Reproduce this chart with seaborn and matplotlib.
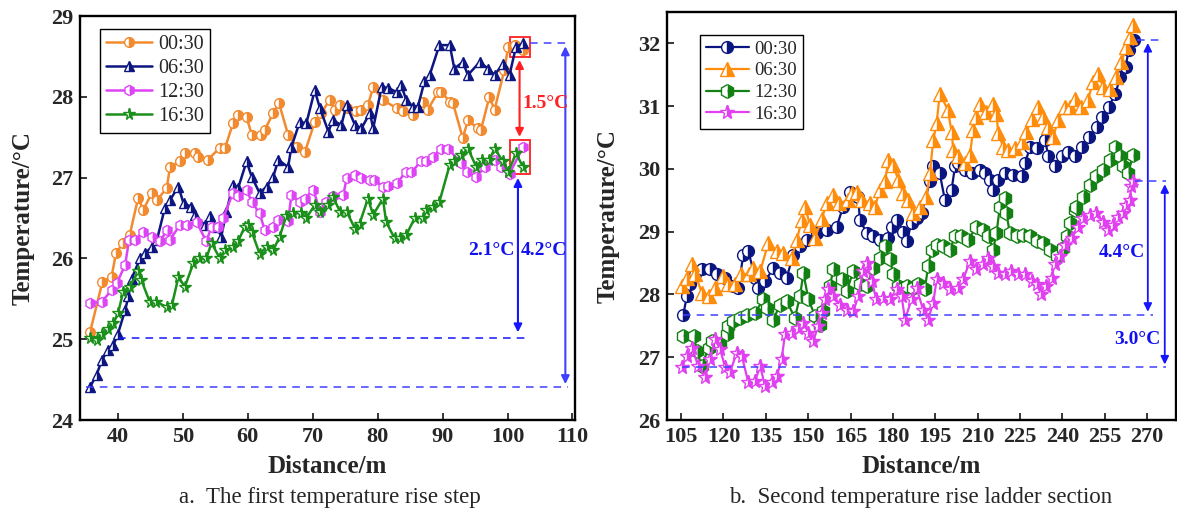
import matplotlib
matplotlib.use("Agg")
import matplotlib.pyplot as plt
import matplotlib.patches as mpatches
import seaborn as sns
import numpy as np

# ---------------- data: panel a (first temperature rise step) ----------------
a_times = ["00:30", "06:30", "12:30", "16:30"]

a_x_0030 = [35.7, 37.6, 39.0, 39.7, 40.8, 41.8, 43.1, 43.9, 45.2, 46.0, 47.5, 48.0, 49.5, 50.3, 51.8, 52.3,
            53.8, 55.7, 56.5, 57.7, 58.5, 59.8, 60.6, 62.1, 62.6, 63.9, 64.8, 66.2, 67.5, 68.8, 70.3, 71.3,
            72.6, 73.4, 74.2, 75.2, 76.7, 77.5, 78.5, 79.3, 80.8, 82.9, 83.9, 85.4, 87.0, 87.7, 89.3, 89.8,
            91.1, 91.6, 93.1, 93.9, 95.4, 95.9, 97.2, 98.0, 99.5, 100.1, 101.1, 102.4]
a_y_0030 = [25.09, 25.71, 25.77, 26.07, 26.19, 26.29, 26.75, 26.60, 26.81, 26.72, 26.87, 27.13, 27.20, 27.30,
            27.30, 27.26, 27.22, 27.37, 27.37, 27.67, 27.77, 27.75, 27.53, 27.53, 27.59, 27.80, 27.92, 27.53,
            27.38, 27.32, 27.69, 27.80, 27.96, 27.84, 27.90, 27.86, 27.82, 27.84, 27.90, 28.12, 27.96, 27.86,
            27.82, 27.77, 27.94, 27.84, 28.06, 28.06, 27.94, 27.92, 27.49, 27.71, 27.61, 27.59, 28.00, 27.84,
            28.33, 28.62, 28.64, 28.58]

a_x_0630 = [35.7, 36.7, 37.5, 38.5, 39.3, 40.0, 41.1, 41.6, 42.1, 43.4, 44.2, 45.2, 46.0, 47.2, 48.0, 49.3,
            50.1, 51.3, 51.8, 53.4, 54.2, 55.2, 55.9, 56.7, 57.7, 58.5, 59.8, 60.6, 61.8, 62.9, 63.9, 64.7,
            66.2, 66.7, 68.0, 69.0, 70.3, 71.1, 72.4, 73.1, 74.4, 75.2, 76.5, 77.5, 78.8, 79.3, 80.6, 81.6,
            82.9, 83.6, 84.4, 85.4, 86.2, 87.2, 88.0, 89.5, 91.1, 91.8, 93.1, 93.9, 95.7, 97.0, 98.0, 99.3,
            100.3, 101.3, 102.4]
a_y_0630 = [24.41, 24.56, 24.74, 24.87, 24.93, 25.07, 25.36, 25.53, 25.75, 26.00, 26.07, 26.14, 26.23, 26.62,
            26.72, 26.89, 26.68, 26.64, 26.54, 26.41, 26.52, 26.39, 26.27, 26.58, 26.91, 26.87, 27.20, 27.01,
            26.81, 26.89, 27.01, 27.22, 27.13, 27.38, 27.69, 27.67, 28.08, 27.86, 27.57, 27.71, 27.65, 27.90,
            27.65, 27.61, 27.80, 27.61, 28.12, 28.11, 28.06, 28.15, 27.96, 27.88, 27.88, 28.19, 28.27, 28.64,
            28.64, 28.35, 28.43, 28.27, 28.43, 28.35, 28.27, 28.41, 28.27, 28.62, 28.66]

a_x_1230 = [35.7, 37.5, 39.0, 39.8, 41.1, 41.7, 42.6, 43.9, 45.2, 46.5, 47.5, 48.0, 49.5, 50.6, 52.1, 53.6,
            54.4, 55.4, 56.2, 57.7, 58.5, 59.8, 60.6, 61.8, 62.6, 63.9, 64.7, 66.2, 66.7, 68.0, 68.8, 70.1,
            71.1, 72.1, 73.1, 74.7, 75.2, 76.5, 77.5, 78.8, 79.5, 80.8, 81.6, 82.9, 84.4, 85.2, 86.7, 87.5,
            88.5, 89.8, 90.8, 92.9, 93.7, 95.2, 96.5, 98.0, 99.0, 100.3, 102.4]
a_y_1230 = [25.45, 25.46, 25.61, 25.69, 25.92, 26.23, 26.23, 26.33, 26.27, 26.21, 26.35, 26.23, 26.41, 26.41,
            26.45, 26.21, 26.39, 26.39, 26.50, 26.81, 26.77, 26.85, 26.70, 26.56, 26.35, 26.39, 26.48, 26.46,
            26.78, 26.70, 26.74, 26.85, 26.58, 26.70, 26.77, 26.78, 26.99, 27.03, 26.99, 26.97, 26.97, 26.89,
            26.90, 26.93, 27.07, 27.07, 27.20, 27.20, 27.26, 27.36, 27.36, 27.18, 27.07, 27.01, 27.13, 27.22,
            27.13, 27.05, 27.38]

a_x_1630 = [35.7, 36.7, 37.5, 38.5, 39.3, 40.0, 40.8, 41.8, 43.1, 43.6, 44.9, 45.9, 47.5, 48.3, 49.3, 50.3,
            51.6, 52.4, 53.6, 54.4, 55.7, 56.5, 57.7, 58.5, 59.5, 60.0, 60.6, 61.8, 62.9, 63.9, 64.9, 65.9,
            67.0, 68.2, 69.0, 70.3, 71.1, 72.4, 73.1, 74.2, 75.2, 76.5, 77.2, 78.5, 79.3, 80.8, 81.3, 82.6,
            83.4, 84.4, 85.7, 87.0, 87.5, 88.5, 89.5, 91.1, 91.8, 92.9, 93.9, 95.2, 96.0, 97.2, 98.0, 99.3,
            100.1, 101.3, 102.4]
a_y_1630 = [25.01, 24.99, 25.07, 25.13, 25.20, 25.32, 25.59, 25.65, 25.84, 25.73, 25.46, 25.46, 25.40, 25.42,
            25.77, 25.65, 25.94, 26.00, 26.00, 26.19, 26.00, 26.10, 26.14, 26.21, 26.39, 26.41, 26.33, 26.06,
            26.14, 26.10, 26.27, 26.52, 26.56, 26.56, 26.50, 26.66, 26.58, 26.66, 26.76, 26.58, 26.58, 26.37,
            26.43, 26.74, 26.54, 26.74, 26.45, 26.25, 26.25, 26.29, 26.50, 26.50, 26.60, 26.64, 26.70, 27.16,
            27.20, 27.28, 27.36, 27.13, 27.22, 27.22, 27.36, 27.20, 27.07, 27.30, 27.13]

# ---------------- data: panel b (second temperature rise ladder section) ----------------
b_times = ["00:30", "06:30", "12:30", "16:30"]

b_x_0030 = [105.8, 107.0, 108.2, 110.0, 112.3, 115.3, 117.6, 120.6, 123.5, 125.3, 127.0, 128.8, 131.2, 132.4,
            134.7, 137.7, 140.0, 142.4, 144.7, 147.1, 149.5, 153.0, 156.6, 160.1, 162.4, 164.8, 167.7, 168.3,
            170.7, 173.0, 175.4, 178.4, 179.6, 181.3, 183.7, 184.9, 186.6, 188.4, 190.2, 193.1, 194.3, 196.6,
            198.4, 200.8, 202.0, 203.1, 205.5, 207.9, 210.8, 212.6, 214.4, 215.6, 217.4, 219.7, 222.7, 225.6,
            226.8, 228.6, 231.0, 233.9, 235.1, 237.5, 239.8, 242.2, 244.6, 246.9, 249.3, 252.3, 254.1, 256.5,
            258.8, 260.6, 262.4, 263.5, 265.3]
b_y_0030 = [27.68, 27.97, 28.16, 28.32, 28.40, 28.40, 28.32, 28.27, 28.13, 28.10, 28.63, 28.69, 28.27, 28.10,
            28.21, 28.42, 28.34, 28.27, 28.63, 28.77, 28.87, 28.98, 29.03, 29.08, 29.40, 29.64, 29.56, 29.19,
            28.98, 28.93, 28.87, 28.90, 29.08, 29.19, 29.00, 28.85, 29.14, 29.22, 29.30, 29.80, 30.04, 29.93,
            29.51, 29.67, 30.04, 30.09, 29.98, 29.93, 29.98, 29.93, 29.83, 29.67, 29.83, 29.93, 29.90, 29.88,
            30.09, 30.35, 30.33, 30.46, 30.20, 30.04, 30.20, 30.27, 30.20, 30.35, 30.51, 30.67, 30.83, 30.99,
            31.20, 31.47, 31.62, 31.89, 32.05]

b_x_0630 = [105.2, 107.0, 108.8, 110.0, 112.3, 114.7, 117.0, 120.0, 121.7, 124.1, 126.2, 129.0, 130.6, 133.0,
            135.9, 138.9, 141.2, 144.2, 146.0, 147.7, 148.9, 150.6, 152.4, 154.8, 156.5, 158.9, 161.0, 164.2,
            165.4, 167.2, 169.0, 171.9, 173.7, 175.4, 177.2, 178.4, 180.1, 181.9, 183.7, 185.4, 187.2, 189.6,
            191.9, 193.1, 194.3, 195.5, 196.6, 199.5, 200.8, 201.4, 203.1, 205.5, 207.3, 208.4, 209.6, 210.8,
            213.1, 215.5, 216.7, 217.3, 219.1, 220.8, 223.2, 225.6, 227.3, 229.1, 231.5, 233.2, 235.0, 236.8,
            238.5, 240.9, 242.6, 244.4, 246.8, 249.1, 250.9, 252.7, 254.4, 256.8, 259.2, 260.9, 262.7, 263.9,
            265.1]
b_y_0630 = [28.13, 28.27, 28.48, 28.32, 28.03, 27.97, 28.10, 28.29, 28.16, 28.16, 28.32, 28.32, 28.42, 28.37,
            28.82, 28.69, 28.66, 28.58, 28.87, 29.19, 29.40, 29.11, 28.90, 29.20, 29.45, 29.58, 29.45, 29.50,
            29.62, 29.64, 29.51, 29.46, 29.40, 29.67, 29.80, 30.14, 30.06, 29.83, 29.61, 29.51, 29.30, 29.40,
            29.56, 29.93, 30.46, 30.73, 31.20, 30.94, 30.59, 30.30, 30.20, 30.09, 30.22, 30.62, 30.83, 31.04,
            30.91, 31.04, 30.88, 30.57, 30.35, 30.30, 30.33, 30.43, 30.59, 30.80, 30.99, 30.83, 30.67, 30.51,
            30.78, 30.99, 30.99, 31.12, 30.99, 31.10, 31.39, 31.52, 31.31, 31.28, 31.47, 31.70, 31.94, 32.10,
            32.29]

b_x_1230 = [105.8, 109.4, 110.6, 112.3, 114.7, 115.9, 118.8, 121.2, 121.7, 123.5, 125.9, 128.2, 131.2, 134.1,
            135.3, 137.7, 140.0, 142.4, 145.3, 147.1, 148.3, 150.1, 152.4, 154.2, 155.4, 157.7, 158.9, 161.9,
            163.6, 166.0, 168.3, 170.7, 173.0, 175.4, 177.2, 179.0, 180.1, 181.9, 183.7, 184.9, 187.2, 189.0,
            191.3, 192.5, 193.7, 195.5, 197.8, 200.2, 202.0, 204.3, 206.7, 209.6, 212.0, 213.8, 215.5, 216.7,
            217.9, 219.6, 220.2, 221.4, 223.8, 226.1, 228.5, 230.9, 233.2, 235.6, 238.0, 240.3, 241.5, 242.7,
            244.4, 245.0, 247.4, 249.8, 252.1, 254.4, 256.8, 258.6, 260.3, 261.5, 263.3, 265.1]
b_y_1230 = [27.34, 27.34, 27.10, 26.86, 27.15, 27.26, 27.21, 27.37, 27.50, 27.58, 27.63, 27.68, 27.71, 27.92,
            27.79, 27.60, 27.84, 27.89, 27.63, 27.97, 28.34, 27.92, 27.66, 27.52, 27.73, 28.13, 28.40, 28.24,
            28.05, 28.37, 28.16, 28.13, 28.42, 28.58, 28.77, 28.56, 28.32, 28.13, 28.10, 28.13, 28.10, 28.16,
            28.08, 28.45, 28.71, 28.79, 28.77, 28.71, 28.93, 28.93, 28.87, 29.08, 29.03, 28.93, 28.71, 28.98,
            29.40, 29.53, 29.30, 28.98, 28.93, 28.95, 28.93, 28.85, 28.82, 28.71, 28.61, 28.74, 28.93, 29.14,
            29.35, 29.40, 29.56, 29.75, 29.88, 29.98, 30.14, 30.35, 30.20, 30.04, 29.93, 30.22]

b_x_1630 = [105.2, 107.0, 108.8, 111.1, 113.5, 115.3, 117.0, 118.8, 120.6, 122.3, 124.7, 126.5, 128.8, 131.2,
            133.0, 134.7, 137.1, 138.9, 140.6, 141.8, 144.2, 146.5, 148.3, 150.1, 151.8, 153.6, 154.8, 156.0,
            157.1, 158.9, 161.3, 163.6, 166.0, 167.7, 169.5, 170.7, 172.5, 174.2, 176.6, 179.0, 181.3, 183.1,
            184.3, 186.6, 188.4, 190.7, 192.5, 194.3, 195.5, 197.8, 200.2, 203.1, 204.9, 207.3, 209.6, 212.0,
            213.8, 215.5, 217.3, 219.6, 222.0, 224.4, 226.7, 229.1, 230.9, 232.6, 234.4, 236.2, 237.3, 239.1,
            240.9, 243.3, 245.6, 247.4, 249.8, 252.1, 254.4, 256.2, 258.0, 259.8, 261.5, 262.7, 263.9, 264.5,
            265.1]
b_y_1630 = [26.84, 27.02, 27.15, 26.86, 26.68, 26.97, 27.29, 27.13, 26.84, 26.76, 27.07, 27.02, 26.60, 26.62,
            26.86, 26.54, 26.60, 26.70, 26.97, 27.37, 27.39, 27.47, 27.55, 27.39, 27.26, 27.50, 27.71, 27.92,
            28.08, 27.97, 27.84, 27.76, 27.73, 27.97, 28.37, 28.50, 28.21, 27.92, 27.95, 27.92, 28.08, 27.97,
            27.60, 27.92, 28.10, 27.76, 27.60, 27.87, 28.24, 28.18, 28.08, 28.10, 28.24, 28.53, 28.40, 28.48,
            28.58, 28.45, 28.34, 28.32, 28.37, 28.32, 28.32, 28.21, 28.16, 28.00, 28.13, 28.27, 28.48, 28.61,
            28.79, 28.90, 29.08, 29.22, 29.27, 29.30, 29.16, 29.03, 29.11, 29.24, 29.30, 29.43, 29.51, 29.72,
            29.80]

a_xticks = [40, 50, 60, 70, 80, 90, 100, 110]
a_yticks = [24, 25, 26, 27, 28, 29]
b_xticks = [105, 120, 135, 150, 165, 180, 195, 210, 225, 240, 255, 270]
b_yticks = [26, 27, 28, 29, 30, 31, 32]

# ---------------- style ----------------
sns.set_theme(style="ticks")
plt.rcParams["font.family"] = ["Liberation Serif", "DejaVu Serif"]
plt.rcParams["mathtext.fontset"] = "stix"

fig = plt.figure(figsize=(11.77, 5.17), dpi=100)
fig.patch.set_facecolor("white")
axA = fig.add_axes([0.068, 0.1876, 0.4206, 0.7814])
axB = fig.add_axes([0.5667, 0.1876, 0.4325, 0.7892])


def draw(ax, x, y, color, marker, label, ms, lw=1.8):
    sns.lineplot(x=x, y=y, ax=ax, color=color, marker=marker, markersize=ms,
                 fillstyle="right", markerfacecoloralt="white",
                 markeredgecolor=color, markeredgewidth=1.0, linewidth=lw,
                 label=label, estimator=None, errorbar=None, legend=False)


# panel a
cA = {"00:30": "#F28A30", "06:30": "#0D1580", "12:30": "#DD44F5", "16:30": "#1A8F1A"}
draw(axA, a_x_0030, a_y_0030, cA["00:30"], "o", a_times[0], 7)
draw(axA, a_x_0630, a_y_0630, cA["06:30"], "^", a_times[1], 7.5)
draw(axA, a_x_1230, a_y_1230, cA["12:30"], "h", a_times[2], 7.5)
draw(axA, a_x_1630, a_y_1630, cA["16:30"], "*", a_times[3], 8.5)

# panel b
cB = {"00:30": "#0A1580", "06:30": "#FF8C0A", "12:30": "#128012", "16:30": "#E040F0"}
draw(axB, b_x_0030, b_y_0030, cB["00:30"], "o", b_times[0], 8.5, 1.6)
draw(axB, b_x_0630, b_y_0630, cB["06:30"], "^", b_times[1], 9.5, 1.6)
draw(axB, b_x_1230, b_y_1230, cB["12:30"], "h", b_times[2], 10, 1.6)
draw(axB, b_x_1630, b_y_1630, cB["16:30"], "*", b_times[3], 10.5, 1.6)

for ax, xt, yt, xl, yl in [(axA, a_xticks, a_yticks, (34.15, 110.4), (24, 29)),
                           (axB, b_xticks, b_yticks, (100, 280.3), (26, 32.5))]:
    ax.set_xlim(*xl)
    ax.set_ylim(*yl)
    ax.set_xticks(xt)
    ax.set_yticks(yt)
    ax.tick_params(direction="in", length=5, width=1.3, labelsize=16, pad=5)
    for lab in ax.get_xticklabels() + ax.get_yticklabels():
        lab.set_fontweight("bold")
    for s in ax.spines.values():
        s.set_visible(True)
        s.set_linewidth(1.7)
        s.set_color("black")
    ax.set_xlabel("Distance/m", fontsize=18, fontweight="bold", labelpad=6)

axA.set_ylabel("Temperature/°C", fontsize=18, fontweight="bold", labelpad=12)
axB.set_ylabel("Temperature/°C", fontsize=18, fontweight="bold", labelpad=13)

legA = axA.legend(loc="upper left", bbox_to_anchor=(0.04, 0.968), borderaxespad=0, fontsize=14.5,
                  frameon=True, fancybox=False, edgecolor="black", framealpha=1, handlelength=2.3,
                  labelspacing=0.25, borderpad=0.3, handletextpad=0.3)
legA.get_frame().set_linewidth(1.0)
legB = axB.legend(loc="upper left", bbox_to_anchor=(0.065, 0.944), borderaxespad=0, fontsize=13.5,
                  frameon=True, fancybox=False, edgecolor="black", framealpha=1, handlelength=2.3,
                  labelspacing=0.25, borderpad=0.3, handletextpad=0.3)
legB.get_frame().set_linewidth(1.0)

blue_line = "#4040FF"
blue_txt = "#1010F0"
dash = (0, (5, 4))

# ---- annotations panel a ----
top_a = a_y_0630[-1]
low_a = a_y_0630[0]
mid_a = a_y_1630[0]
axA.hlines(top_a, 103.5, 109.3, colors=blue_line, linestyles=dash, lw=1.1)
axA.hlines(low_a, 35.0, 109.3, colors=blue_line, linestyles=dash, lw=1.1)
axA.hlines(mid_a, 40.0, 103.4, colors="#1515FF", linestyles=dash, lw=1.1)
axA.annotate("", xy=(108.9, low_a), xytext=(108.9, top_a),
             arrowprops=dict(arrowstyle="<|-|>", color=blue_line, lw=1.5, mutation_scale=12))
axA.add_patch(mpatches.Rectangle((100.3, 28.49), 3.2, 0.25, fill=False, ec="#FF2020", lw=1.3))
axA.add_patch(mpatches.Rectangle((100.3, 27.05), 3.2, 0.42, fill=False, ec="#FF2020", lw=1.3))
axA.annotate("", xy=(101.85, 27.47), xytext=(101.85, 28.49),
             arrowprops=dict(arrowstyle="<|-|>", color="#FF2020", lw=1.5, mutation_scale=12))
axA.text(102.3, 27.92, "1.5°C", color="#FF2020", fontsize=14, fontweight="bold", ha="left", va="center")
axA.annotate("", xy=(101.6, mid_a + 0.04), xytext=(101.6, 27.03),
             arrowprops=dict(arrowstyle="<|-|>", color="#1515FF", lw=1.5, mutation_scale=12))
axA.text(101.1, 26.1, "2.1°C", color=blue_txt, fontsize=14, fontweight="bold", ha="right", va="center")
axA.text(102.1, 26.1, "4.2°C", color=blue_txt, fontsize=14, fontweight="bold", ha="left", va="center")

# ---- annotations panel b ----
top_b = b_y_0030[-1]
low_b = b_y_0030[0]
top_m = b_y_1630[-1]
low_m = b_y_1630[0]
axB.hlines(top_b, 266.3, 275.0, colors=blue_line, linestyles=dash, lw=1.1)
axB.hlines(low_b, 105.5, 272.0, colors=blue_line, linestyles=dash, lw=1.1)
axB.hlines(top_m, 265.7, 276.8, colors=blue_line, linestyles=dash, lw=1.1)
axB.hlines(low_m, 105.2, 276.8, colors=blue_line, linestyles=dash, lw=1.1)
axB.annotate("", xy=(270.3, low_b), xytext=(270.3, top_b),
             arrowprops=dict(arrowstyle="<|-|>", color="#1515FF", lw=1.3, mutation_scale=12))
axB.annotate("", xy=(276.3, low_m), xytext=(276.3, top_m),
             arrowprops=dict(arrowstyle="<|-|>", color="#1515FF", lw=1.3, mutation_scale=12))
axB.text(269.4, 28.67, "4.4°C", color=blue_txt, fontsize=14, fontweight="bold", ha="right", va="center")
axB.text(274.8, 27.29, "3.0°C", color=blue_txt, fontsize=14, fontweight="bold", ha="right", va="center")

# panel captions
fig.text(0.28, 0.038, "a.  The first temperature rise step", fontsize=16.5, ha="center", va="center")
fig.text(0.782, 0.038, "b.  Second temperature rise ladder section", fontsize=16.5, ha="center", va="center")

fig.savefig("out.png", dpi=100, facecolor="white")
